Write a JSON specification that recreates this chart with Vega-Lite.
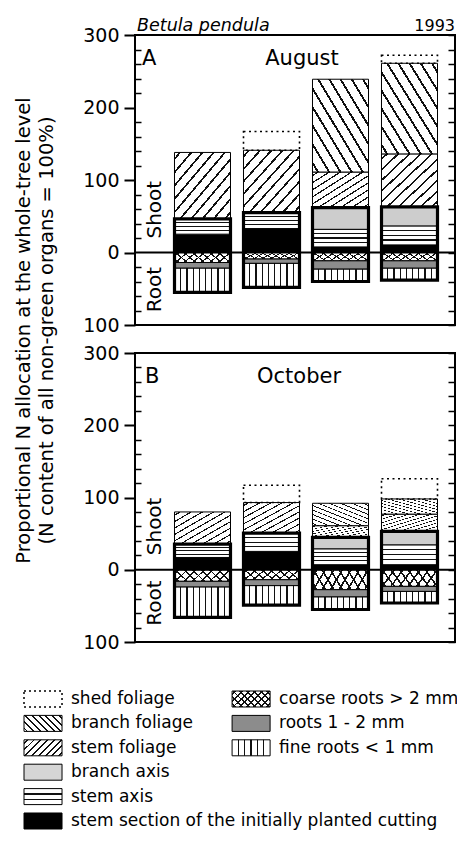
{
"$schema": "https://vega.github.io/schema/vega-lite/v6.json",
"padding": {"left": 12, "top": 15, "right": 2, "bottom": 2},
"background": "white",
"spacing": 28,
"bounds": "flush",
"config": {
 "font": "DejaVu Sans",
 "view": {"stroke": "black", "strokeWidth": 2},
 "axis": {"labelFont": "DejaVu Sans", "titleFont": "DejaVu Sans", "labelColor": "black", "titleColor": "black", "tickColor": "black", "grid": false},
 "text": {"font": "DejaVu Sans", "color": "black"}
},
"datasets": {
 "aug": [
  {"treatment": "C/LF", "part": "ss", "value": 25.3},
  {"treatment": "C/LF", "part": "sa", "value": 21.1},
  {"treatment": "C/LF", "part": "sf", "value": 91.6},
  {"treatment": "C/LF", "part": "cr", "value": -13.8},
  {"treatment": "C/LF", "part": "r12", "value": -7.9},
  {"treatment": "C/LF", "part": "fr", "value": -33.3},
  {"treatment": "O₃/LF", "part": "ss", "value": 33},
  {"treatment": "O₃/LF", "part": "sa", "value": 22},
  {"treatment": "O₃/LF", "part": "sf", "value": 86},
  {"treatment": "O₃/LF", "part": "shed", "value": 26},
  {"treatment": "O₃/LF", "part": "cr", "value": -9},
  {"treatment": "O₃/LF", "part": "r12", "value": -6},
  {"treatment": "O₃/LF", "part": "fr", "value": -33},
  {"treatment": "C/HF", "part": "ss", "value": 7.7},
  {"treatment": "C/HF", "part": "sa", "value": 24.3},
  {"treatment": "C/HF", "part": "ba", "value": 30},
  {"treatment": "C/HF", "part": "sf", "value": 49},
  {"treatment": "C/HF", "part": "bf", "value": 128},
  {"treatment": "C/HF", "part": "cr", "value": -11.5},
  {"treatment": "C/HF", "part": "r12", "value": -11.5},
  {"treatment": "C/HF", "part": "fr", "value": -17},
  {"treatment": "O₃/HF", "part": "ss", "value": 10.5},
  {"treatment": "O₃/HF", "part": "sa", "value": 26.2},
  {"treatment": "O₃/HF", "part": "ba", "value": 26.3},
  {"treatment": "O₃/HF", "part": "sf", "value": 73},
  {"treatment": "O₃/HF", "part": "bf", "value": 125},
  {"treatment": "O₃/HF", "part": "shed", "value": 11},
  {"treatment": "O₃/HF", "part": "cr", "value": -11.5},
  {"treatment": "O₃/HF", "part": "r12", "value": -10.2},
  {"treatment": "O₃/HF", "part": "fr", "value": -16.3}
 ],
 "oct": [
  {"treatment": "C/LF", "part": "ss", "value": 17},
  {"treatment": "C/LF", "part": "sa", "value": 18.5},
  {"treatment": "C/LF", "part": "sf", "value": 44.5},
  {"treatment": "C/LF", "part": "cr", "value": -16},
  {"treatment": "C/LF", "part": "r12", "value": -8},
  {"treatment": "C/LF", "part": "fr", "value": -42},
  {"treatment": "O₃/LF", "part": "ss", "value": 25.4},
  {"treatment": "O₃/LF", "part": "sa", "value": 25.3},
  {"treatment": "O₃/LF", "part": "sf", "value": 42.3},
  {"treatment": "O₃/LF", "part": "shed", "value": 24},
  {"treatment": "O₃/LF", "part": "cr", "value": -13.8},
  {"treatment": "O₃/LF", "part": "r12", "value": -8.2},
  {"treatment": "O₃/LF", "part": "fr", "value": -27},
  {"treatment": "C/HF", "part": "ss", "value": 7},
  {"treatment": "C/HF", "part": "sa", "value": 22},
  {"treatment": "C/HF", "part": "ba", "value": 15.7},
  {"treatment": "C/HF", "part": "sf", "value": 16.3},
  {"treatment": "C/HF", "part": "bf", "value": 31},
  {"treatment": "C/HF", "part": "cr", "value": -27.6},
  {"treatment": "C/HF", "part": "r12", "value": -10.1},
  {"treatment": "C/HF", "part": "fr", "value": -17.3},
  {"treatment": "O₃/HF", "part": "ss", "value": 7},
  {"treatment": "O₃/HF", "part": "sa", "value": 27.5},
  {"treatment": "O₃/HF", "part": "ba", "value": 18.5},
  {"treatment": "O₃/HF", "part": "sf", "value": 24},
  {"treatment": "O₃/HF", "part": "bf", "value": 21},
  {"treatment": "O₃/HF", "part": "shed", "value": 28},
  {"treatment": "O₃/HF", "part": "cr", "value": -23},
  {"treatment": "O₃/HF", "part": "r12", "value": -7},
  {"treatment": "O₃/HF", "part": "fr", "value": -16}
 ],
 "legend": [
  {"part": "shed", "label": "shed foliage", "group": "shoot"},
  {"part": "bf", "label": "branch foliage", "group": "shoot"},
  {"part": "sf", "label": "stem foliage", "group": "shoot"},
  {"part": "ba", "label": "branch axis", "group": "shoot"},
  {"part": "sa", "label": "stem axis", "group": "shoot"},
  {"part": "ss", "label": "stem section of the initially planted cutting", "group": "shoot"},
  {"part": "cr", "label": "coarse roots > 2 mm", "group": "root"},
  {"part": "r12", "label": "roots 1 - 2 mm", "group": "root"},
  {"part": "fr", "label": "fine roots < 1 mm", "group": "root"}
 ]
},
"vconcat": [
 {
  "width": 320, "height": 290,
  "data": {"name": "aug"},
  "transform": [
   {"calculate": "indexof(['ss','sa','ba','sf','bf','shed','cr','r12','fr'], datum.part)", "as": "ord"},
   {"stack": "value", "groupby": ["treatment"], "sort": [{"field": "ord", "order": "ascending"}], "as": ["y0", "y1"], "offset": "zero"}
  ],
  "resolve": {"axis": {"y": "independent"}},
  "layer": [
   {
    "transform": [{"filter": "datum.part !== 'shed'"}],
    "mark": {"type": "rect", "stroke": "black", "strokeWidth": 1},
    "encoding": {
     "x": {"field": "treatment", "type": "nominal", "axis": null, "scale": {"domain": ["C/LF", "O₃/LF", "C/HF", "O₃/HF"], "range": [33, 309], "paddingInner": 0.1884, "paddingOuter": 0.0942}},
     "y": {"field": "y0", "type": "quantitative", "scale": {"domain": [-100, 300], "nice": false, "zero": false},
      "axis": {"orient": "left", "values": [-100, -80, -60, -40, -20, 0, 20, 40, 60, 80, 100, 120, 140, 160, 180, 200, 220, 240, 260, 280, 300],
       "labelExpr": "datum.value % 100 === 0 ? format(abs(datum.value), 'd') : ''",
       "labelFontSize": 19, "labelPadding": 5, "labelFlush": false, "labelOverlap": false, "labelBound": false,
       "tickSize": {"condition": {"test": "datum.value % 100 === 0", "value": 11}, "value": -6},
       "tickWidth": {"condition": {"test": "datum.value % 100 === 0", "value": 2}, "value": 1.5},
       "domain": false, "grid": false,
       "title": ["Proportional N allocation at the whole-tree level", "(N content of all non-green organs = 100%)"],
       "titleFontSize": 19.5, "titleFontWeight": "normal", "titleAngle": 270, "titleX": -121, "titleY": 295, "titleAlign": "center", "titleBaseline": "top", "titleLineHeight": 23}},
     "y2": {"field": "y1"},
     "fill": {"condition": [
      {"test": "datum.part === 'ss'", "value": "black"},
      {"test": "datum.part === 'sa'", "value": {"gradient": "linear", "x1": 0, "y1": 0, "x2": 0, "y2": 1, "stops": [{"offset":0,"color":"white"},{"offset":0.215,"color":"white"},{"offset":0.215,"color":"#111"},{"offset":0.285,"color":"#111"},{"offset":0.285,"color":"white"},{"offset":0.465,"color":"white"},{"offset":0.465,"color":"#111"},{"offset":0.535,"color":"#111"},{"offset":0.535,"color":"white"},{"offset":0.715,"color":"white"},{"offset":0.715,"color":"#111"},{"offset":0.785,"color":"#111"},{"offset":0.785,"color":"white"},{"offset":1,"color":"white"}]}},
      {"test": "datum.part === 'ba'", "value": "#cdcdcd"},
      {"test": "datum.part === 'sf'", "value": {"gradient": "linear", "x1": 0, "y1": 0, "x2": 1, "y2": 1, "stops": [{"offset":0,"color":"white"},{"offset":0.04,"color":"white"},{"offset":0.04,"color":"#111"},{"offset":0.06,"color":"#111"},{"offset":0.06,"color":"white"},{"offset":0.14,"color":"white"},{"offset":0.14,"color":"#111"},{"offset":0.16,"color":"#111"},{"offset":0.16,"color":"white"},{"offset":0.24,"color":"white"},{"offset":0.24,"color":"#111"},{"offset":0.26,"color":"#111"},{"offset":0.26,"color":"white"},{"offset":0.34,"color":"white"},{"offset":0.34,"color":"#111"},{"offset":0.36,"color":"#111"},{"offset":0.36,"color":"white"},{"offset":0.44,"color":"white"},{"offset":0.44,"color":"#111"},{"offset":0.46,"color":"#111"},{"offset":0.46,"color":"white"},{"offset":0.54,"color":"white"},{"offset":0.54,"color":"#111"},{"offset":0.56,"color":"#111"},{"offset":0.56,"color":"white"},{"offset":0.64,"color":"white"},{"offset":0.64,"color":"#111"},{"offset":0.66,"color":"#111"},{"offset":0.66,"color":"white"},{"offset":0.74,"color":"white"},{"offset":0.74,"color":"#111"},{"offset":0.76,"color":"#111"},{"offset":0.76,"color":"white"},{"offset":0.84,"color":"white"},{"offset":0.84,"color":"#111"},{"offset":0.86,"color":"#111"},{"offset":0.86,"color":"white"},{"offset":0.94,"color":"white"},{"offset":0.94,"color":"#111"},{"offset":0.96,"color":"#111"},{"offset":0.96,"color":"white"},{"offset":1,"color":"white"}]}},
      {"test": "datum.part === 'bf'", "value": {"gradient": "linear", "x1": 0, "y1": 1, "x2": 1, "y2": 0, "stops": [{"offset":0,"color":"white"},{"offset":0.04,"color":"white"},{"offset":0.04,"color":"#111"},{"offset":0.06,"color":"#111"},{"offset":0.06,"color":"white"},{"offset":0.14,"color":"white"},{"offset":0.14,"color":"#111"},{"offset":0.16,"color":"#111"},{"offset":0.16,"color":"white"},{"offset":0.24,"color":"white"},{"offset":0.24,"color":"#111"},{"offset":0.26,"color":"#111"},{"offset":0.26,"color":"white"},{"offset":0.34,"color":"white"},{"offset":0.34,"color":"#111"},{"offset":0.36,"color":"#111"},{"offset":0.36,"color":"white"},{"offset":0.44,"color":"white"},{"offset":0.44,"color":"#111"},{"offset":0.46,"color":"#111"},{"offset":0.46,"color":"white"},{"offset":0.54,"color":"white"},{"offset":0.54,"color":"#111"},{"offset":0.56,"color":"#111"},{"offset":0.56,"color":"white"},{"offset":0.64,"color":"white"},{"offset":0.64,"color":"#111"},{"offset":0.66,"color":"#111"},{"offset":0.66,"color":"white"},{"offset":0.74,"color":"white"},{"offset":0.74,"color":"#111"},{"offset":0.76,"color":"#111"},{"offset":0.76,"color":"white"},{"offset":0.84,"color":"white"},{"offset":0.84,"color":"#111"},{"offset":0.86,"color":"#111"},{"offset":0.86,"color":"white"},{"offset":0.94,"color":"white"},{"offset":0.94,"color":"#111"},{"offset":0.96,"color":"#111"},{"offset":0.96,"color":"white"},{"offset":1,"color":"white"}]}},
      {"test": "datum.part === 'cr'", "value": {"gradient": "linear", "x1": 0, "y1": 0, "x2": 1.17, "y2": 0.25, "stops": [{"offset":0,"color":"white"},{"offset":0.049,"color":"white"},{"offset":0.049,"color":"#111"},{"offset":0.076,"color":"#111"},{"offset":0.076,"color":"white"},{"offset":0.174,"color":"white"},{"offset":0.174,"color":"#111"},{"offset":0.201,"color":"#111"},{"offset":0.201,"color":"white"},{"offset":0.299,"color":"white"},{"offset":0.299,"color":"#111"},{"offset":0.326,"color":"#111"},{"offset":0.326,"color":"white"},{"offset":0.424,"color":"white"},{"offset":0.424,"color":"#111"},{"offset":0.451,"color":"#111"},{"offset":0.451,"color":"white"},{"offset":0.549,"color":"white"},{"offset":0.549,"color":"#111"},{"offset":0.576,"color":"#111"},{"offset":0.576,"color":"white"},{"offset":0.674,"color":"white"},{"offset":0.674,"color":"#111"},{"offset":0.701,"color":"#111"},{"offset":0.701,"color":"white"},{"offset":0.799,"color":"white"},{"offset":0.799,"color":"#111"},{"offset":0.826,"color":"#111"},{"offset":0.826,"color":"white"},{"offset":0.924,"color":"white"},{"offset":0.924,"color":"#111"},{"offset":0.951,"color":"#111"},{"offset":0.951,"color":"white"},{"offset":1,"color":"white"}]}},
      {"test": "datum.part === 'r12'", "value": "#8c8c8c"},
      {"test": "datum.part === 'fr'", "value": {"gradient": "linear", "x1": 0, "y1": 0, "x2": 1, "y2": 0, "stops": [{"offset":0,"color":"white"},{"offset":0.1,"color":"white"},{"offset":0.1,"color":"#111"},{"offset":0.122,"color":"#111"},{"offset":0.122,"color":"white"},{"offset":0.211,"color":"white"},{"offset":0.211,"color":"#111"},{"offset":0.233,"color":"#111"},{"offset":0.233,"color":"white"},{"offset":0.322,"color":"white"},{"offset":0.322,"color":"#111"},{"offset":0.344,"color":"#111"},{"offset":0.344,"color":"white"},{"offset":0.433,"color":"white"},{"offset":0.433,"color":"#111"},{"offset":0.455,"color":"#111"},{"offset":0.455,"color":"white"},{"offset":0.545,"color":"white"},{"offset":0.545,"color":"#111"},{"offset":0.567,"color":"#111"},{"offset":0.567,"color":"white"},{"offset":0.656,"color":"white"},{"offset":0.656,"color":"#111"},{"offset":0.678,"color":"#111"},{"offset":0.678,"color":"white"},{"offset":0.767,"color":"white"},{"offset":0.767,"color":"#111"},{"offset":0.789,"color":"#111"},{"offset":0.789,"color":"white"},{"offset":0.878,"color":"white"},{"offset":0.878,"color":"#111"},{"offset":0.9,"color":"#111"},{"offset":0.9,"color":"white"},{"offset":1,"color":"white"}]}}
     ], "value": "white"}
    }
   },
   {
    "transform": [{"filter": "datum.part === 'cr'"}],
    "mark": {"type": "rect"},
    "encoding": {
     "x": {"field": "treatment", "type": "nominal", "axis": null},
     "y": {"field": "y0", "type": "quantitative", "axis": null},
     "y2": {"field": "y1"},
     "fill": {"value": {"gradient": "linear", "x1": 0, "y1": 1, "x2": 1.17, "y2": 0.75, "stops": [{"offset":0,"color":"rgba(255,255,255,0)"},{"offset":0.049,"color":"rgba(255,255,255,0)"},{"offset":0.049,"color":"#111"},{"offset":0.076,"color":"#111"},{"offset":0.076,"color":"rgba(255,255,255,0)"},{"offset":0.174,"color":"rgba(255,255,255,0)"},{"offset":0.174,"color":"#111"},{"offset":0.201,"color":"#111"},{"offset":0.201,"color":"rgba(255,255,255,0)"},{"offset":0.299,"color":"rgba(255,255,255,0)"},{"offset":0.299,"color":"#111"},{"offset":0.326,"color":"#111"},{"offset":0.326,"color":"rgba(255,255,255,0)"},{"offset":0.424,"color":"rgba(255,255,255,0)"},{"offset":0.424,"color":"#111"},{"offset":0.451,"color":"#111"},{"offset":0.451,"color":"rgba(255,255,255,0)"},{"offset":0.549,"color":"rgba(255,255,255,0)"},{"offset":0.549,"color":"#111"},{"offset":0.576,"color":"#111"},{"offset":0.576,"color":"rgba(255,255,255,0)"},{"offset":0.674,"color":"rgba(255,255,255,0)"},{"offset":0.674,"color":"#111"},{"offset":0.701,"color":"#111"},{"offset":0.701,"color":"rgba(255,255,255,0)"},{"offset":0.799,"color":"rgba(255,255,255,0)"},{"offset":0.799,"color":"#111"},{"offset":0.826,"color":"#111"},{"offset":0.826,"color":"rgba(255,255,255,0)"},{"offset":0.924,"color":"rgba(255,255,255,0)"},{"offset":0.924,"color":"#111"},{"offset":0.951,"color":"#111"},{"offset":0.951,"color":"rgba(255,255,255,0)"},{"offset":1,"color":"rgba(255,255,255,0)"}]}}
    }
   },
   {
    "transform": [{"filter": "datum.part === 'shed'"}],
    "mark": {"type": "rect", "fill": "white", "fillOpacity": 0, "stroke": "black", "strokeWidth": 1.6, "strokeDash": [2, 3.5]},
    "encoding": {
     "x": {"field": "treatment", "type": "nominal", "axis": null},
     "y": {"field": "y0", "type": "quantitative", "axis": null},
     "y2": {"field": "y1"}
    }
   },
   {
    "transform": [
     {"filter": "datum.part !== 'sf' && datum.part !== 'bf' && datum.part !== 'shed'"},
     {"aggregate": [{"op": "min", "field": "y1", "as": "lo"}, {"op": "max", "field": "y1", "as": "hi"}], "groupby": ["treatment"]}
    ],
    "mark": {"type": "rect", "fill": "white", "fillOpacity": 0, "stroke": "black", "strokeWidth": 3.2},
    "encoding": {
     "x": {"field": "treatment", "type": "nominal", "axis": null},
     "y": {"field": "lo", "type": "quantitative", "axis": null},
     "y2": {"field": "hi"}
    }
   },
   {
    "data": {"values": [{}]},
    "mark": {"type": "rule", "strokeWidth": 2, "color": "black"},
    "encoding": {
     "y": {"datum": 0, "type": "quantitative",
      "axis": {"orient": "right", "values": [-100, -80, -60, -40, -20, 0, 20, 40, 60, 80, 100, 120, 140, 160, 180, 200, 220, 240, 260, 280, 300], "labels": false, "tickSize": -7, "tickWidth": 1.5, "domain": false, "grid": false, "title": null}}
    }
   },
   {
    "data": {"values": [{}]},
    "mark": {"type": "text", "text": "A", "fontSize": 21, "align": "left", "baseline": "alphabetic", "dx": -60.5},
    "encoding": {"x": {"datum": "C/LF", "type": "nominal", "axis": null}, "y": {"datum": 258, "type": "quantitative", "axis": null}}
   },
   {
    "data": {"values": [{}]},
    "mark": {"type": "text", "text": "August", "fontSize": 21, "align": "center", "baseline": "alphabetic", "dx": 30.5},
    "encoding": {"x": {"datum": "O₃/LF", "type": "nominal", "axis": null}, "y": {"datum": 258, "type": "quantitative", "axis": null}}
   },
   {
    "data": {"values": [{}]},
    "mark": {"type": "text", "text": "Shoot", "fontSize": 20, "angle": 270, "align": "center", "baseline": "middle", "dy": -47.5},
    "encoding": {"x": {"datum": "C/LF", "type": "nominal", "axis": null}, "y": {"datum": 59, "type": "quantitative", "axis": null}}
   },
   {
    "data": {"values": [{}]},
    "mark": {"type": "text", "text": "Root", "fontSize": 20, "angle": 270, "align": "center", "baseline": "middle", "dy": -47.5},
    "encoding": {"x": {"datum": "C/LF", "type": "nominal", "axis": null}, "y": {"datum": -51, "type": "quantitative", "axis": null}}
   },
   {
    "data": {"values": [{}]},
    "mark": {"type": "text", "text": "Betula pendula", "fontSize": 17.5, "fontStyle": "italic", "align": "left", "baseline": "alphabetic", "dx": -65.5, "dy": -4.3},
    "encoding": {"x": {"datum": "C/LF", "type": "nominal", "axis": null}, "y": {"datum": 300, "type": "quantitative", "axis": null}}
   },
   {
    "data": {"values": [{}]},
    "mark": {"type": "text", "text": "1993", "fontSize": 16, "align": "right", "baseline": "alphabetic", "dx": 45.5, "dy": -4.3},
    "encoding": {"x": {"datum": "O₃/HF", "type": "nominal", "axis": null}, "y": {"datum": 300, "type": "quantitative", "axis": null}}
   }
  ]
 },
 {
  "width": 320, "height": 289,
  "data": {"name": "oct"},
  "transform": [
   {"calculate": "indexof(['ss','sa','ba','sf','bf','shed','cr','r12','fr'], datum.part)", "as": "ord"},
   {"stack": "value", "groupby": ["treatment"], "sort": [{"field": "ord", "order": "ascending"}], "as": ["y0", "y1"], "offset": "zero"}
  ],
  "resolve": {"axis": {"y": "independent"}},
  "layer": [
   {
    "transform": [{"filter": "datum.part !== 'shed'"}],
    "mark": {"type": "rect", "stroke": "black", "strokeWidth": 1},
    "encoding": {
     "x": {"field": "treatment", "type": "nominal", "scale": {"domain": ["C/LF", "O₃/LF", "C/HF", "O₃/HF"], "range": [33, 309], "paddingInner": 0.1884, "paddingOuter": 0.0942},
      "axis": {"orient": "bottom", "tickBand": "extent", "labelFontSize": 20, "labelPadding": 5, "labelAngle": 0, "tickSize": 6, "tickWidth": 2, "domain": false, "title": null}},
     "y": {"field": "y0", "type": "quantitative", "scale": {"domain": [-100, 300], "nice": false, "zero": false},
      "axis": {"orient": "left", "values": [-100, -80, -60, -40, -20, 0, 20, 40, 60, 80, 100, 120, 140, 160, 180, 200, 220, 240, 260, 280, 300],
       "labelExpr": "datum.value % 100 === 0 ? format(abs(datum.value), 'd') : ''",
       "labelFontSize": 19, "labelPadding": 5, "labelFlush": false, "labelOverlap": false, "labelBound": false,
       "tickSize": {"condition": {"test": "datum.value % 100 === 0", "value": 11}, "value": -6},
       "tickWidth": {"condition": {"test": "datum.value % 100 === 0", "value": 2}, "value": 1.5},
       "domain": false, "grid": false, "title": null}},
     "y2": {"field": "y1"},
     "fill": {"condition": [
      {"test": "datum.part === 'ss'", "value": "black"},
      {"test": "datum.part === 'sa'", "value": {"gradient": "linear", "x1": 0, "y1": 0, "x2": 0, "y2": 1, "stops": [{"offset":0,"color":"white"},{"offset":0.215,"color":"white"},{"offset":0.215,"color":"#111"},{"offset":0.285,"color":"#111"},{"offset":0.285,"color":"white"},{"offset":0.465,"color":"white"},{"offset":0.465,"color":"#111"},{"offset":0.535,"color":"#111"},{"offset":0.535,"color":"white"},{"offset":0.715,"color":"white"},{"offset":0.715,"color":"#111"},{"offset":0.785,"color":"#111"},{"offset":0.785,"color":"white"},{"offset":1,"color":"white"}]}},
      {"test": "datum.part === 'ba'", "value": "#cdcdcd"},
      {"test": "datum.part === 'sf'", "value": {"gradient": "linear", "x1": 0, "y1": 0, "x2": 1, "y2": 1, "stops": [{"offset":0,"color":"white"},{"offset":0.04,"color":"white"},{"offset":0.04,"color":"#111"},{"offset":0.06,"color":"#111"},{"offset":0.06,"color":"white"},{"offset":0.14,"color":"white"},{"offset":0.14,"color":"#111"},{"offset":0.16,"color":"#111"},{"offset":0.16,"color":"white"},{"offset":0.24,"color":"white"},{"offset":0.24,"color":"#111"},{"offset":0.26,"color":"#111"},{"offset":0.26,"color":"white"},{"offset":0.34,"color":"white"},{"offset":0.34,"color":"#111"},{"offset":0.36,"color":"#111"},{"offset":0.36,"color":"white"},{"offset":0.44,"color":"white"},{"offset":0.44,"color":"#111"},{"offset":0.46,"color":"#111"},{"offset":0.46,"color":"white"},{"offset":0.54,"color":"white"},{"offset":0.54,"color":"#111"},{"offset":0.56,"color":"#111"},{"offset":0.56,"color":"white"},{"offset":0.64,"color":"white"},{"offset":0.64,"color":"#111"},{"offset":0.66,"color":"#111"},{"offset":0.66,"color":"white"},{"offset":0.74,"color":"white"},{"offset":0.74,"color":"#111"},{"offset":0.76,"color":"#111"},{"offset":0.76,"color":"white"},{"offset":0.84,"color":"white"},{"offset":0.84,"color":"#111"},{"offset":0.86,"color":"#111"},{"offset":0.86,"color":"white"},{"offset":0.94,"color":"white"},{"offset":0.94,"color":"#111"},{"offset":0.96,"color":"#111"},{"offset":0.96,"color":"white"},{"offset":1,"color":"white"}]}},
      {"test": "datum.part === 'bf'", "value": {"gradient": "linear", "x1": 0, "y1": 1, "x2": 1, "y2": 0, "stops": [{"offset":0,"color":"white"},{"offset":0.04,"color":"white"},{"offset":0.04,"color":"#111"},{"offset":0.06,"color":"#111"},{"offset":0.06,"color":"white"},{"offset":0.14,"color":"white"},{"offset":0.14,"color":"#111"},{"offset":0.16,"color":"#111"},{"offset":0.16,"color":"white"},{"offset":0.24,"color":"white"},{"offset":0.24,"color":"#111"},{"offset":0.26,"color":"#111"},{"offset":0.26,"color":"white"},{"offset":0.34,"color":"white"},{"offset":0.34,"color":"#111"},{"offset":0.36,"color":"#111"},{"offset":0.36,"color":"white"},{"offset":0.44,"color":"white"},{"offset":0.44,"color":"#111"},{"offset":0.46,"color":"#111"},{"offset":0.46,"color":"white"},{"offset":0.54,"color":"white"},{"offset":0.54,"color":"#111"},{"offset":0.56,"color":"#111"},{"offset":0.56,"color":"white"},{"offset":0.64,"color":"white"},{"offset":0.64,"color":"#111"},{"offset":0.66,"color":"#111"},{"offset":0.66,"color":"white"},{"offset":0.74,"color":"white"},{"offset":0.74,"color":"#111"},{"offset":0.76,"color":"#111"},{"offset":0.76,"color":"white"},{"offset":0.84,"color":"white"},{"offset":0.84,"color":"#111"},{"offset":0.86,"color":"#111"},{"offset":0.86,"color":"white"},{"offset":0.94,"color":"white"},{"offset":0.94,"color":"#111"},{"offset":0.96,"color":"#111"},{"offset":0.96,"color":"white"},{"offset":1,"color":"white"}]}},
      {"test": "datum.part === 'cr'", "value": {"gradient": "linear", "x1": 0, "y1": 0, "x2": 1.17, "y2": 0.25, "stops": [{"offset":0,"color":"white"},{"offset":0.049,"color":"white"},{"offset":0.049,"color":"#111"},{"offset":0.076,"color":"#111"},{"offset":0.076,"color":"white"},{"offset":0.174,"color":"white"},{"offset":0.174,"color":"#111"},{"offset":0.201,"color":"#111"},{"offset":0.201,"color":"white"},{"offset":0.299,"color":"white"},{"offset":0.299,"color":"#111"},{"offset":0.326,"color":"#111"},{"offset":0.326,"color":"white"},{"offset":0.424,"color":"white"},{"offset":0.424,"color":"#111"},{"offset":0.451,"color":"#111"},{"offset":0.451,"color":"white"},{"offset":0.549,"color":"white"},{"offset":0.549,"color":"#111"},{"offset":0.576,"color":"#111"},{"offset":0.576,"color":"white"},{"offset":0.674,"color":"white"},{"offset":0.674,"color":"#111"},{"offset":0.701,"color":"#111"},{"offset":0.701,"color":"white"},{"offset":0.799,"color":"white"},{"offset":0.799,"color":"#111"},{"offset":0.826,"color":"#111"},{"offset":0.826,"color":"white"},{"offset":0.924,"color":"white"},{"offset":0.924,"color":"#111"},{"offset":0.951,"color":"#111"},{"offset":0.951,"color":"white"},{"offset":1,"color":"white"}]}},
      {"test": "datum.part === 'r12'", "value": "#8c8c8c"},
      {"test": "datum.part === 'fr'", "value": {"gradient": "linear", "x1": 0, "y1": 0, "x2": 1, "y2": 0, "stops": [{"offset":0,"color":"white"},{"offset":0.1,"color":"white"},{"offset":0.1,"color":"#111"},{"offset":0.122,"color":"#111"},{"offset":0.122,"color":"white"},{"offset":0.211,"color":"white"},{"offset":0.211,"color":"#111"},{"offset":0.233,"color":"#111"},{"offset":0.233,"color":"white"},{"offset":0.322,"color":"white"},{"offset":0.322,"color":"#111"},{"offset":0.344,"color":"#111"},{"offset":0.344,"color":"white"},{"offset":0.433,"color":"white"},{"offset":0.433,"color":"#111"},{"offset":0.455,"color":"#111"},{"offset":0.455,"color":"white"},{"offset":0.545,"color":"white"},{"offset":0.545,"color":"#111"},{"offset":0.567,"color":"#111"},{"offset":0.567,"color":"white"},{"offset":0.656,"color":"white"},{"offset":0.656,"color":"#111"},{"offset":0.678,"color":"#111"},{"offset":0.678,"color":"white"},{"offset":0.767,"color":"white"},{"offset":0.767,"color":"#111"},{"offset":0.789,"color":"#111"},{"offset":0.789,"color":"white"},{"offset":0.878,"color":"white"},{"offset":0.878,"color":"#111"},{"offset":0.9,"color":"#111"},{"offset":0.9,"color":"white"},{"offset":1,"color":"white"}]}}
     ], "value": "white"}
    }
   },
   {
    "transform": [{"filter": "datum.part === 'cr'"}],
    "mark": {"type": "rect"},
    "encoding": {
     "x": {"field": "treatment", "type": "nominal", "axis": null},
     "y": {"field": "y0", "type": "quantitative", "axis": null},
     "y2": {"field": "y1"},
     "fill": {"value": {"gradient": "linear", "x1": 0, "y1": 1, "x2": 1.17, "y2": 0.75, "stops": [{"offset":0,"color":"rgba(255,255,255,0)"},{"offset":0.049,"color":"rgba(255,255,255,0)"},{"offset":0.049,"color":"#111"},{"offset":0.076,"color":"#111"},{"offset":0.076,"color":"rgba(255,255,255,0)"},{"offset":0.174,"color":"rgba(255,255,255,0)"},{"offset":0.174,"color":"#111"},{"offset":0.201,"color":"#111"},{"offset":0.201,"color":"rgba(255,255,255,0)"},{"offset":0.299,"color":"rgba(255,255,255,0)"},{"offset":0.299,"color":"#111"},{"offset":0.326,"color":"#111"},{"offset":0.326,"color":"rgba(255,255,255,0)"},{"offset":0.424,"color":"rgba(255,255,255,0)"},{"offset":0.424,"color":"#111"},{"offset":0.451,"color":"#111"},{"offset":0.451,"color":"rgba(255,255,255,0)"},{"offset":0.549,"color":"rgba(255,255,255,0)"},{"offset":0.549,"color":"#111"},{"offset":0.576,"color":"#111"},{"offset":0.576,"color":"rgba(255,255,255,0)"},{"offset":0.674,"color":"rgba(255,255,255,0)"},{"offset":0.674,"color":"#111"},{"offset":0.701,"color":"#111"},{"offset":0.701,"color":"rgba(255,255,255,0)"},{"offset":0.799,"color":"rgba(255,255,255,0)"},{"offset":0.799,"color":"#111"},{"offset":0.826,"color":"#111"},{"offset":0.826,"color":"rgba(255,255,255,0)"},{"offset":0.924,"color":"rgba(255,255,255,0)"},{"offset":0.924,"color":"#111"},{"offset":0.951,"color":"#111"},{"offset":0.951,"color":"rgba(255,255,255,0)"},{"offset":1,"color":"rgba(255,255,255,0)"}]}}
    }
   },
   {
    "transform": [{"filter": "datum.part === 'shed'"}],
    "mark": {"type": "rect", "fill": "white", "fillOpacity": 0, "stroke": "black", "strokeWidth": 1.6, "strokeDash": [2, 3.5]},
    "encoding": {
     "x": {"field": "treatment", "type": "nominal", "axis": null},
     "y": {"field": "y0", "type": "quantitative", "axis": null},
     "y2": {"field": "y1"}
    }
   },
   {
    "transform": [
     {"filter": "datum.part !== 'sf' && datum.part !== 'bf' && datum.part !== 'shed'"},
     {"aggregate": [{"op": "min", "field": "y1", "as": "lo"}, {"op": "max", "field": "y1", "as": "hi"}], "groupby": ["treatment"]}
    ],
    "mark": {"type": "rect", "fill": "white", "fillOpacity": 0, "stroke": "black", "strokeWidth": 3.2},
    "encoding": {
     "x": {"field": "treatment", "type": "nominal", "axis": null},
     "y": {"field": "lo", "type": "quantitative", "axis": null},
     "y2": {"field": "hi"}
    }
   },
   {
    "data": {"values": [{}]},
    "mark": {"type": "rule", "strokeWidth": 2, "color": "black"},
    "encoding": {
     "y": {"datum": 0, "type": "quantitative",
      "axis": {"orient": "right", "values": [-100, -80, -60, -40, -20, 0, 20, 40, 60, 80, 100, 120, 140, 160, 180, 200, 220, 240, 260, 280, 300], "labels": false, "tickSize": -7, "tickWidth": 1.5, "domain": false, "grid": false, "title": null}}
    }
   },
   {
    "data": {"values": [{}]},
    "mark": {"type": "text", "text": "B", "fontSize": 21, "align": "left", "baseline": "alphabetic", "dx": -57.5},
    "encoding": {"x": {"datum": "C/LF", "type": "nominal", "axis": null}, "y": {"datum": 259, "type": "quantitative", "axis": null}}
   },
   {
    "data": {"values": [{}]},
    "mark": {"type": "text", "text": "October", "fontSize": 21, "align": "center", "baseline": "alphabetic", "dx": 27.5},
    "encoding": {"x": {"datum": "O₃/LF", "type": "nominal", "axis": null}, "y": {"datum": 259, "type": "quantitative", "axis": null}}
   },
   {
    "data": {"values": [{}]},
    "mark": {"type": "text", "text": "Shoot", "fontSize": 20, "angle": 270, "align": "center", "baseline": "middle", "dy": -47.5},
    "encoding": {"x": {"datum": "C/LF", "type": "nominal", "axis": null}, "y": {"datum": 60, "type": "quantitative", "axis": null}}
   },
   {
    "data": {"values": [{}]},
    "mark": {"type": "text", "text": "Root", "fontSize": 20, "angle": 270, "align": "center", "baseline": "middle", "dy": -47.5},
    "encoding": {"x": {"datum": "C/LF", "type": "nominal", "axis": null}, "y": {"datum": -46, "type": "quantitative", "axis": null}}
   }
  ]
 },
 {
  "width": 320, "height": 165,
  "view": {"stroke": null},
  "data": {"name": "legend"},
  "transform": [{"window": [{"op": "row_number", "as": "row"}], "groupby": ["group"]}],
  "encoding": {
   "x": {"field": "group", "type": "nominal", "axis": null, "scale": {"domain": ["shoot", "root"], "range": [-111, 135.1], "paddingInner": 0.8173, "paddingOuter": 0}},
   "y": {"field": "row", "type": "ordinal", "axis": null, "scale": {"domain": [1, 2, 3, 4, 5, 6], "range": [21, 159], "paddingInner": 0.344, "paddingOuter": 0}}
  },
  "layer": [
   {
    "transform": [{"filter": "datum.part !== 'shed'"}],
    "mark": {"type": "rect", "stroke": "black", "strokeWidth": 1},
    "encoding": {
     "fill": {"condition": [
      {"test": "datum.part === 'ss'", "value": "black"},
      {"test": "datum.part === 'sa'", "value": {"gradient": "linear", "x1": 0, "y1": 0, "x2": 0, "y2": 1, "stops": [{"offset":0,"color":"white"},{"offset":0.285,"color":"white"},{"offset":0.285,"color":"#111"},{"offset":0.375,"color":"#111"},{"offset":0.375,"color":"white"},{"offset":0.625,"color":"white"},{"offset":0.625,"color":"#111"},{"offset":0.715,"color":"#111"},{"offset":0.715,"color":"white"},{"offset":1,"color":"white"}]}},
      {"test": "datum.part === 'ba'", "value": "#d5d5d5"},
      {"test": "datum.part === 'sf' || datum.part === 'cr'", "value": {"gradient": "linear", "x1": 0, "y1": 0, "x2": 1.21, "y2": 0.51, "stops": [{"offset":0,"color":"white"},{"offset":0.045,"color":"white"},{"offset":0.045,"color":"#111"},{"offset":0.081,"color":"#111"},{"offset":0.081,"color":"white"},{"offset":0.17,"color":"white"},{"offset":0.17,"color":"#111"},{"offset":0.206,"color":"#111"},{"offset":0.206,"color":"white"},{"offset":0.295,"color":"white"},{"offset":0.295,"color":"#111"},{"offset":0.331,"color":"#111"},{"offset":0.331,"color":"white"},{"offset":0.42,"color":"white"},{"offset":0.42,"color":"#111"},{"offset":0.456,"color":"#111"},{"offset":0.456,"color":"white"},{"offset":0.545,"color":"white"},{"offset":0.545,"color":"#111"},{"offset":0.581,"color":"#111"},{"offset":0.581,"color":"white"},{"offset":0.67,"color":"white"},{"offset":0.67,"color":"#111"},{"offset":0.706,"color":"#111"},{"offset":0.706,"color":"white"},{"offset":0.795,"color":"white"},{"offset":0.795,"color":"#111"},{"offset":0.831,"color":"#111"},{"offset":0.831,"color":"white"},{"offset":0.92,"color":"white"},{"offset":0.92,"color":"#111"},{"offset":0.956,"color":"#111"},{"offset":0.956,"color":"white"},{"offset":1,"color":"white"}]}},
      {"test": "datum.part === 'bf'", "value": {"gradient": "linear", "x1": 0, "y1": 1, "x2": 1.21, "y2": 0.49, "stops": [{"offset":0,"color":"white"},{"offset":0.045,"color":"white"},{"offset":0.045,"color":"#111"},{"offset":0.081,"color":"#111"},{"offset":0.081,"color":"white"},{"offset":0.17,"color":"white"},{"offset":0.17,"color":"#111"},{"offset":0.206,"color":"#111"},{"offset":0.206,"color":"white"},{"offset":0.295,"color":"white"},{"offset":0.295,"color":"#111"},{"offset":0.331,"color":"#111"},{"offset":0.331,"color":"white"},{"offset":0.42,"color":"white"},{"offset":0.42,"color":"#111"},{"offset":0.456,"color":"#111"},{"offset":0.456,"color":"white"},{"offset":0.545,"color":"white"},{"offset":0.545,"color":"#111"},{"offset":0.581,"color":"#111"},{"offset":0.581,"color":"white"},{"offset":0.67,"color":"white"},{"offset":0.67,"color":"#111"},{"offset":0.706,"color":"#111"},{"offset":0.706,"color":"white"},{"offset":0.795,"color":"white"},{"offset":0.795,"color":"#111"},{"offset":0.831,"color":"#111"},{"offset":0.831,"color":"white"},{"offset":0.92,"color":"white"},{"offset":0.92,"color":"#111"},{"offset":0.956,"color":"#111"},{"offset":0.956,"color":"white"},{"offset":1,"color":"white"}]}},
      {"test": "datum.part === 'r12'", "value": "#8c8c8c"},
      {"test": "datum.part === 'fr'", "value": {"gradient": "linear", "x1": 0, "y1": 0, "x2": 1, "y2": 0, "stops": [{"offset":0,"color":"white"},{"offset":0.149,"color":"white"},{"offset":0.149,"color":"#111"},{"offset":0.185,"color":"#111"},{"offset":0.185,"color":"white"},{"offset":0.315,"color":"white"},{"offset":0.315,"color":"#111"},{"offset":0.351,"color":"#111"},{"offset":0.351,"color":"white"},{"offset":0.482,"color":"white"},{"offset":0.482,"color":"#111"},{"offset":0.518,"color":"#111"},{"offset":0.518,"color":"white"},{"offset":0.649,"color":"white"},{"offset":0.649,"color":"#111"},{"offset":0.685,"color":"#111"},{"offset":0.685,"color":"white"},{"offset":0.815,"color":"white"},{"offset":0.815,"color":"#111"},{"offset":0.851,"color":"#111"},{"offset":0.851,"color":"white"},{"offset":1,"color":"white"}]}}
     ], "value": "white"}
    }
   },
   {
    "transform": [{"filter": "datum.part === 'cr'"}],
    "mark": {"type": "rect"},
    "encoding": {
     "fill": {"value": {"gradient": "linear", "x1": 0, "y1": 1, "x2": 1.21, "y2": 0.49, "stops": [{"offset":0,"color":"rgba(255,255,255,0)"},{"offset":0.045,"color":"rgba(255,255,255,0)"},{"offset":0.045,"color":"#111"},{"offset":0.081,"color":"#111"},{"offset":0.081,"color":"rgba(255,255,255,0)"},{"offset":0.17,"color":"rgba(255,255,255,0)"},{"offset":0.17,"color":"#111"},{"offset":0.206,"color":"#111"},{"offset":0.206,"color":"rgba(255,255,255,0)"},{"offset":0.295,"color":"rgba(255,255,255,0)"},{"offset":0.295,"color":"#111"},{"offset":0.331,"color":"#111"},{"offset":0.331,"color":"rgba(255,255,255,0)"},{"offset":0.42,"color":"rgba(255,255,255,0)"},{"offset":0.42,"color":"#111"},{"offset":0.456,"color":"#111"},{"offset":0.456,"color":"rgba(255,255,255,0)"},{"offset":0.545,"color":"rgba(255,255,255,0)"},{"offset":0.545,"color":"#111"},{"offset":0.581,"color":"#111"},{"offset":0.581,"color":"rgba(255,255,255,0)"},{"offset":0.67,"color":"rgba(255,255,255,0)"},{"offset":0.67,"color":"#111"},{"offset":0.706,"color":"#111"},{"offset":0.706,"color":"rgba(255,255,255,0)"},{"offset":0.795,"color":"rgba(255,255,255,0)"},{"offset":0.795,"color":"#111"},{"offset":0.831,"color":"#111"},{"offset":0.831,"color":"rgba(255,255,255,0)"},{"offset":0.92,"color":"rgba(255,255,255,0)"},{"offset":0.92,"color":"#111"},{"offset":0.956,"color":"#111"},{"offset":0.956,"color":"rgba(255,255,255,0)"},{"offset":1,"color":"rgba(255,255,255,0)"}]}}
    }
   },
   {
    "transform": [{"filter": "datum.part === 'shed'"}],
    "mark": {"type": "rect", "fill": "white", "stroke": "black", "strokeWidth": 1.5, "strokeDash": [2, 3]}
   },
   {
    "mark": {"type": "text", "align": "left", "baseline": "middle", "dx": 28, "fontSize": 17},
    "encoding": {"text": {"field": "label"}}
   }
  ]
 }
]
}
